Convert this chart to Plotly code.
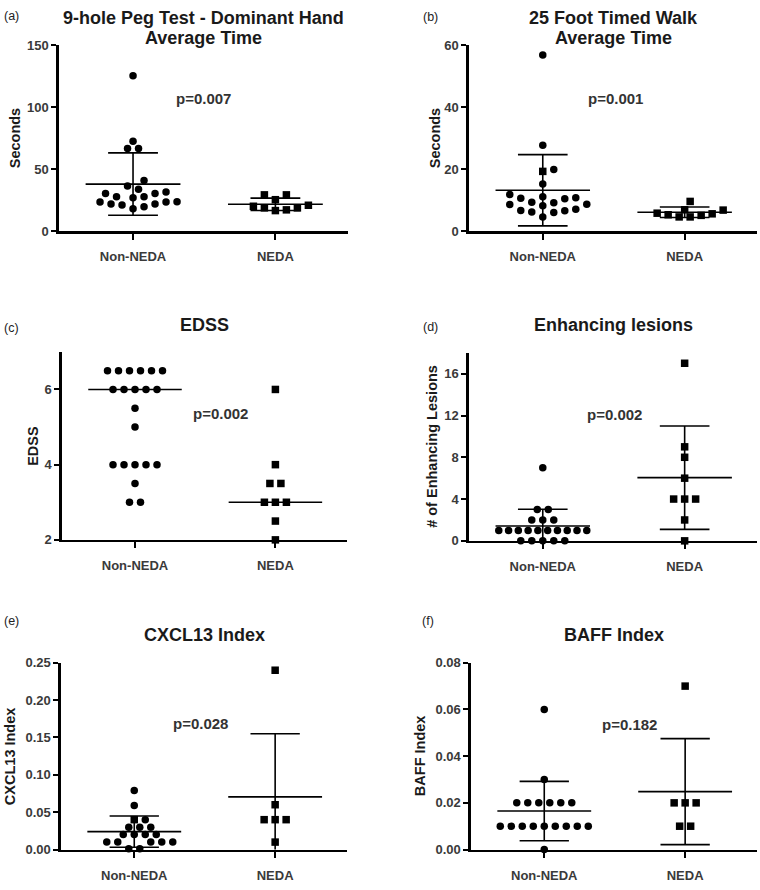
import plotly.graph_objects as go

# ---------------- data ----------------
CATEGORIES = ["Non-NEDA", "NEDA"]

PEG_NON = [125.4, 72.6, 66.8, 66.8, 40.9, 36.4, 33.8, 31.7, 30.4, 30.4, 27.7,
           27.7, 26.9, 23.8, 23.5, 23.5, 21.9, 21.9, 21.1, 19.8, 18.0]
PEG_NEDA = [29.3, 29.3, 25.4, 20.9, 20.1, 18.8, 18.8, 17.2, 16.6]
PEG_MEAN = [38.0, 21.7]
PEG_SD = [25.2, 5.0]

WALK_NON = [56.9, 27.7, 19.9, 19.3, 15.2, 11.8, 11.1, 10.8, 10.6, 10.5, 9.3,
            9.2, 8.7, 8.6, 8.2, 7.1, 6.7, 6.6, 6.2, 6.0, 4.6]
WALK_NEDA = [9.6, 6.9, 6.8, 5.8, 5.6, 5.3, 5.1, 4.6, 4.6]
WALK_MEAN = [13.2, 6.1]
WALK_SD = [11.5, 1.7]

EDSS_NON = [6.5, 6.5, 6.5, 6.5, 6.5, 6.5, 6.0, 6.0, 6.0, 6.0, 6.0, 5.5, 5.0,
            4.0, 4.0, 4.0, 4.0, 4.0, 3.5, 3.0, 3.0]
EDSS_NEDA = [6.0, 4.0, 3.5, 3.5, 3.0, 3.0, 3.0, 2.5, 2.0]
EDSS_MEDIAN = [6.0, 3.0]

LES_NON = [7, 3, 3, 2, 2, 2, 1, 1, 1, 1, 1, 1, 1, 1, 1, 1, 0, 0, 0, 0, 0]
LES_NEDA = [17, 9, 8, 6, 4, 4, 4, 2, 0]
LES_MEAN = [1.42, 6.05]
LES_SD = [1.6, 4.95]

CXCL_NON = [0.079, 0.059, 0.040, 0.040, 0.030, 0.030, 0.030, 0.020, 0.020,
            0.020, 0.020, 0.010, 0.010, 0.010, 0.010, 0.010, 0.001, 0.001]
CXCL_NEDA = [0.240, 0.060, 0.040, 0.040, 0.040, 0.010]
CXCL_MEAN = [0.024, 0.0705]
CXCL_SD = [0.021, 0.0845]

BAFF_NON = [0.06, 0.03, 0.02, 0.02, 0.02, 0.02, 0.02, 0.02, 0.01, 0.01, 0.01,
            0.01, 0.01, 0.01, 0.01, 0.01, 0.01, 0.0]
BAFF_NEDA = [0.07, 0.02, 0.02, 0.02, 0.01, 0.01]
BAFF_MEAN = [0.0165, 0.0248]
BAFF_SD = [0.0127, 0.0227]

P_VALUES = ["p=0.007", "p=0.001", "p=0.002", "p=0.002", "p=0.028", "p=0.182"]
TITLES = [["9-hole Peg Test - Dominant Hand", "Average Time"],
          ["25 Foot Timed Walk", "Average Time"], ["EDSS"], ["Enhancing lesions"],
          ["CXCL13 Index"], ["BAFF Index"]]
Y_TITLES = ["Seconds", "Seconds", "EDSS", "# of Enhancing Lesions",
            "CXCL13 Index", "BAFF Index"]
LETTERS = ["(a)", "(b)", "(c)", "(d)", "(e)", "(f)"]

# ---------------- layout configuration (pixels) ----------------
W, H = 760, 890
PANELS = [
    dict(non=PEG_NON, neda=PEG_NEDA, center=PEG_MEAN, sd=PEG_SD,
         xpx=(59, 348), ypx=(39, 228), yr=(0, 150), dtick=50, fmt="d",
         title_y=21.5, p_xy=(203, 93), yt_x=15, let_xy=(11, 9),
         non_sq=[]),
    dict(non=WALK_NON, neda=WALK_NEDA, center=WALK_MEAN, sd=WALK_SD,
         xpx=(469, 757), ypx=(39, 228), yr=(0, 60), dtick=20, fmt="d",
         title_y=21.5, p_xy=(615, 93), yt_x=435, let_xy=(430, 10),
         non_sq=[3]),
    dict(non=EDSS_NON, neda=EDSS_NEDA, center=EDSS_MEDIAN, sd=None,
         xpx=(62, 347), ypx=(350.75, 542), yr=(2, 7), dtick=2, fmt="d",
         title_y=323, p_xy=(220, 413), yt_x=33, let_xy=(11, 326),
         non_sq=[]),
    dict(non=LES_NON, neda=LES_NEDA, center=LES_MEAN, sd=LES_SD,
         xpx=(469, 757), ypx=(351.75, 543), yr=(0, 18), dtick=4, fmt="d",
         title_y=323, p_xy=(614, 414), yt_x=432, let_xy=(430, 325),
         non_sq=[]),
    dict(non=CXCL_NON, neda=CXCL_NEDA, center=CXCL_MEAN, sd=CXCL_SD,
         xpx=(61, 347), ypx=(667, 857), yr=(0, 0.25), dtick=0.05, fmt=".2f",
         title_y=639, p_xy=(200, 729), yt_x=10, let_xy=(11, 625),
         non_sq=[2]),
    dict(non=BAFF_NON, neda=BAFF_NEDA, center=BAFF_MEAN, sd=BAFF_SD,
         xpx=(471, 757), ypx=(667, 857), yr=(0, 0.08), dtick=0.02, fmt=".2f",
         title_y=639, p_xy=(629, 730), yt_x=420, let_xy=(428, 625),
         non_sq=[]),
]
XR = (-0.52, 1.51)
FONT = "Arial, Liberation Sans, sans-serif"
TITLE_LINE_GAP = 21


def px2x(px):
    return px / W


def px2y(py):
    return 1 - py / H


def swarm(values, ppx, ppy, step=11.0, dmin=9.0, max_span=88.0):
    """Beeswarm-style horizontal offsets (in axis units) for one column."""
    half = step / 2
    cand = [0.0]
    for k in range(1, 80):
        cand += [k * half, -k * half]
    placed = []
    offs = [0.0] * len(values)

    def free(x, y):
        return all((x - a) ** 2 + (y - b) ** 2 >= dmin ** 2 for a, b in placed)

    for v in sorted(set(values)):
        idx = [i for i, w in enumerate(values) if w == v]
        y = v * ppy
        m = len(idx)
        st = step if m < 2 else min(step, max_span / (m - 1))
        sym = [(k - (m - 1) / 2) * st for k in range(m)]
        if all(free(x, y) for x in sym):
            pos = sym
            placed += [(x, y) for x in pos]
        else:
            pos = []
            for _ in range(m):
                for c in cand:
                    if free(c, y) and all(abs(c - p) >= step - 0.5 for p in pos):
                        pos.append(c)
                        placed.append((c, y))
                        break
        for i, x in zip(idx, sorted(pos, key=lambda t: (abs(t), t))):
            offs[i] = x / ppx
    return offs


fig = go.Figure()
annotations = []
layout = {}

for n, P in enumerate(PANELS):
    sfx = "" if n == 0 else str(n + 1)
    xa, ya = "x" + sfx, "y" + sfx
    x0, x1 = P["xpx"]
    ytop, ybot = P["ypx"]
    ppx = (x1 - x0) / (XR[1] - XR[0])
    ppy = (ybot - ytop) / (P["yr"][1] - P["yr"][0])

    # summary lines (mean +/- SD, or median only)
    lx, ly = [], []
    for c, cen in enumerate(P["center"]):
        lx += [c - 0.333, c + 0.333, None]
        ly += [cen, cen, None]
        if P["sd"] is not None:
            s = P["sd"][c]
            lx += [c, c, None, c - 0.175, c + 0.175, None, c - 0.175, c + 0.175, None]
            ly += [cen - s, cen + s, None, cen + s, cen + s, None, cen - s, cen - s, None]
    fig.add_trace(go.Scatter(x=lx, y=ly, mode="lines", xaxis=xa, yaxis=ya,
                             line=dict(color="black", width=1.6),
                             cliponaxis=False, showlegend=False, hoverinfo="skip"))

    # points
    for c, (vals, base_sym) in enumerate([(P["non"], "circle"), (P["neda"], "square")]):
        offs = swarm(vals, ppx, ppy)
        syms = [base_sym] * len(vals)
        if c == 0:
            for i in P["non_sq"]:
                syms[i] = "square"
        fig.add_trace(go.Scatter(
            x=[c + o for o in offs], y=vals, mode="markers", xaxis=xa, yaxis=ya,
            marker=dict(symbol=syms, size=7.5, color="black", line=dict(width=0)),
            cliponaxis=False, showlegend=False, hoverinfo="skip",
            name=CATEGORIES[c]))

    layout["xaxis" + sfx] = dict(
        domain=[px2x(x0), px2x(x1)], range=list(XR), anchor=ya,
        tickvals=[0, 1], ticktext=CATEGORIES, showline=True, linecolor="black",
        linewidth=2.6, ticks="outside", ticklen=6, tickwidth=2, tickcolor="black",
        showgrid=False, zeroline=False, fixedrange=True,
        tickfont=dict(family=FONT, size=13, color="#3a3a3a", weight="bold"),
        ticklabelstandoff=6)
    layout["yaxis" + sfx] = dict(
        domain=[px2y(ybot), px2y(ytop)], range=list(P["yr"]), anchor=xa,
        tick0=P["yr"][0], dtick=P["dtick"], tickformat=P["fmt"],
        showline=True, linecolor="black", linewidth=2.6, ticks="outside",
        ticklen=5, tickwidth=2, tickcolor="black", showgrid=False,
        zeroline=False, fixedrange=True,
        tickfont=dict(family=FONT, size=13, color="#3a3a3a", weight="bold"),
        ticklabelstandoff=0)

    cx = px2x((x0 + x1) / 2)
    lines = TITLES[n]
    for k, line in enumerate(lines):
        ty = P["title_y"] + (k - (len(lines) - 1) / 2) * TITLE_LINE_GAP
        annotations.append(dict(text="<b>" + line + "</b>", x=cx, y=px2y(ty),
                                xref="paper", yref="paper", showarrow=False,
                                xanchor="center", yanchor="middle",
                                font=dict(family=FONT, size=18, color="#1a1a1a")))
    annotations.append(dict(text="<b>" + P_VALUES[n] + "</b>", x=px2x(P["p_xy"][0]),
                            y=px2y(P["p_xy"][1]), xref="paper", yref="paper",
                            showarrow=False, xanchor="center", yanchor="middle",
                            font=dict(family=FONT, size=15, color="#333333")))
    annotations.append(dict(text="<b>" + Y_TITLES[n] + "</b>", x=px2x(P["yt_x"]),
                            y=px2y((ytop + ybot) / 2), xref="paper", yref="paper",
                            showarrow=False, textangle=-90, xanchor="center",
                            yanchor="middle",
                            font=dict(family=FONT, size=14.5, color="#1a1a1a")))
    annotations.append(dict(text=LETTERS[n], x=px2x(P["let_xy"][0]), y=px2y(P["let_xy"][1]),
                            xref="paper", yref="paper", showarrow=False,
                            xanchor="center", yanchor="middle",
                            font=dict(family=FONT, size=12.5, color="#222222")))

fig.update_layout(
    width=W, height=H, margin=dict(l=0, r=0, t=0, b=0),
    paper_bgcolor="white", plot_bgcolor="white", hovermode=False,
    annotations=annotations, showlegend=False, **layout)

fig.write_html("out.html", config={"displayModeBar": False, "staticPlot": True},
               post_script="document.body.style.margin='0';"
                           "document.body.style.overflow='hidden';")
